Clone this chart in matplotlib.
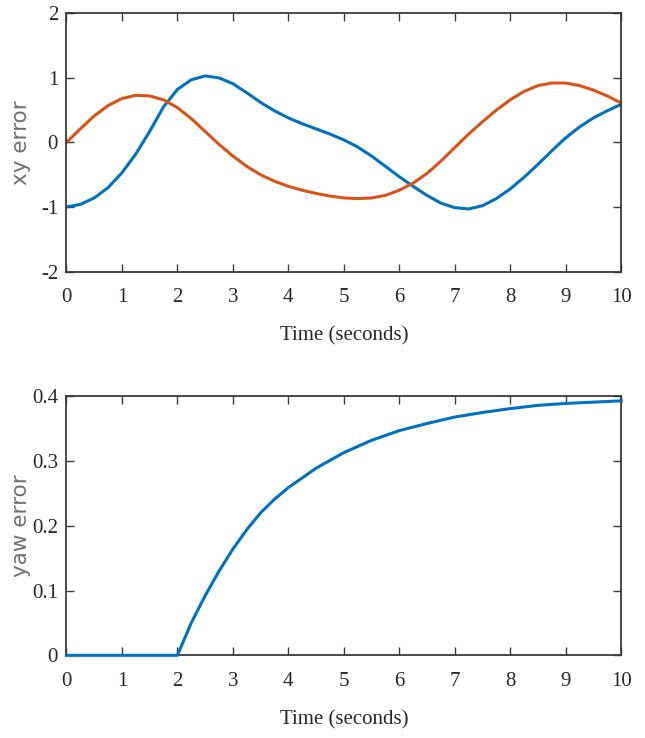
import numpy as np
import matplotlib
matplotlib.use("Agg")
import matplotlib.pyplot as plt

plt.rcParams['axes.unicode_minus'] = False

# sample times (seconds)
t = np.linspace(0, 10, 41)

# xy error, first component (blue)
xy_err_1 = [-1.00, -0.96, -0.86, -0.70, -0.47, -0.18, 0.17, 0.55, 0.82, 0.97,
            1.03, 1.00, 0.91, 0.77, 0.62, 0.49, 0.38, 0.29, 0.21, 0.13,
            0.04, -0.07, -0.21, -0.37, -0.53, -0.68, -0.82, -0.94, -1.01, -1.03,
            -0.98, -0.87, -0.72, -0.54, -0.34, -0.13, 0.07, 0.24, 0.38, 0.49,
            0.59]

# xy error, second component (orange)
xy_err_2 = [0.00, 0.21, 0.41, 0.57, 0.68, 0.73, 0.72, 0.66, 0.54, 0.37,
            0.17, -0.03, -0.21, -0.37, -0.50, -0.60, -0.68, -0.74, -0.79, -0.83,
            -0.86, -0.87, -0.86, -0.82, -0.74, -0.63, -0.48, -0.29, -0.08, 0.13,
            0.32, 0.50, 0.66, 0.79, 0.88, 0.92, 0.92, 0.88, 0.81, 0.72,
            0.61]

# yaw error
t_yaw = [0.0, 1.0, 2.0, 2.25, 2.5, 2.75, 3.0, 3.25, 3.5, 3.75, 4.0, 4.5, 5.0,
         5.5, 6.0, 6.5, 7.0, 7.5, 8.0, 8.5, 9.0, 9.5, 10.0]
yaw_err = [0.0, 0.0, 0.0, 0.050, 0.092, 0.130, 0.164, 0.194, 0.220, 0.241,
           0.259, 0.289, 0.313, 0.332, 0.347, 0.358, 0.368, 0.375, 0.381,
           0.386, 0.389, 0.391, 0.393]

x_ticks = list(range(0, 11))
xy_ticks = [-2, -1, 0, 1, 2]
yaw_ticks = [0, 0.1, 0.2, 0.3, 0.4]
yaw_tick_labels = ['0', '0.1', '0.2', '0.3', '0.4']

blue = '#0072BD'
orange = '#D95319'
frame = '#3a3a3a'


def style_axes(ax):
    for s in ax.spines.values():
        s.set_color(frame)
        s.set_linewidth(1.3)
    ax.tick_params(direction='in', length=5.5, width=1.0, color=frame,
                   top=True, right=True, labelsize=15, labelcolor='#262626')
    ax.tick_params(axis='x', pad=12)
    ax.tick_params(axis='y', pad=6)
    for lbl in ax.get_xticklabels() + ax.get_yticklabels():
        lbl.set_family('Liberation Serif')
    ax.set_xlabel('Time (seconds)', family='Liberation Serif', fontsize=15,
                  color='#262626', labelpad=14)
    ax.yaxis.set_label_coords(-0.064, 0.5)


fig = plt.figure(figsize=(6.45, 7.38), dpi=100)

# top: xy error
ax1 = fig.add_axes([0.103, 0.632, 0.860, 0.350])
ax1.plot(t, xy_err_1, color=blue, lw=2.2)
ax1.plot(t, xy_err_2, color=orange, lw=2.2)
ax1.set_xlim(0, 10)
ax1.set_ylim(-2, 2)
ax1.set_xticks(x_ticks)
ax1.set_yticks(xy_ticks)
ax1.set_ylabel('xy error', family='DejaVu Sans', fontsize=15.5, color='#707070')
style_axes(ax1)

# bottom: yaw error
ax2 = fig.add_axes([0.103, 0.112, 0.860, 0.351])
ax2.plot(t_yaw, yaw_err, color=blue, lw=2.2, zorder=3, clip_on=False)
ax2.set_xlim(0, 10)
ax2.set_ylim(0, 0.4)
ax2.set_xticks(x_ticks)
ax2.set_yticks(yaw_ticks)
ax2.set_yticklabels(yaw_tick_labels)
ax2.set_ylabel('yaw error', family='DejaVu Sans', fontsize=15.5, color='#707070')
style_axes(ax2)

fig.savefig('out.png', dpi=100)
